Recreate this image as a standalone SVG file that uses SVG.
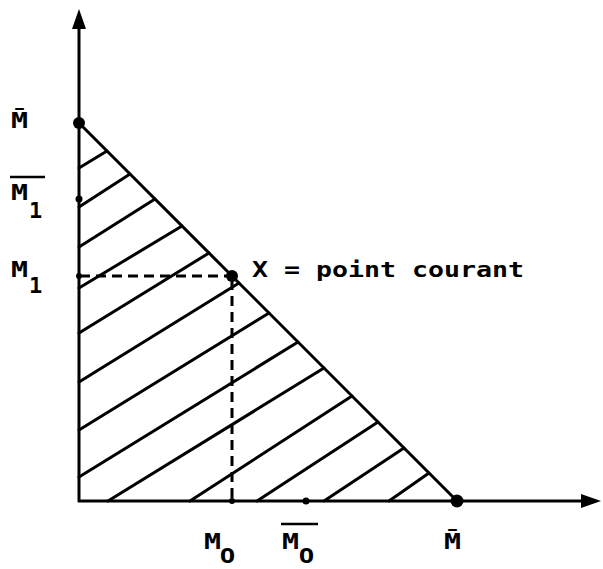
<svg xmlns="http://www.w3.org/2000/svg" width="603" height="569" viewBox="0 0 603 569">
  <style>
    .ln { stroke: #000; stroke-width: 3; fill: none; stroke-linecap: round; }
    .ax { stroke: #000; stroke-width: 3; fill: none; }
    .dash { stroke: #000; stroke-width: 3; fill: none; stroke-dasharray: 10 6; }
    .bar { stroke: #000; stroke-width: 2.5; }
    .lbl { font-family: "DejaVu Sans Mono", "Liberation Mono", monospace; font-weight: bold; font-size: 22px; fill: #000; }
    .zero { font-family: "Noto Sans", "Liberation Sans", sans-serif; font-weight: bold; font-size: 22px; fill: #000; }
    .dot { fill: #000; }
  </style>
  <defs>
    <marker id="arrow" markerUnits="userSpaceOnUse" markerWidth="22" markerHeight="16" refX="0" refY="7" orient="auto" viewBox="0 0 22 14">
      <path d="M0,0 L20,7 L0,14 Z" fill="#000"/>
    </marker>
  </defs>
  <rect width="603" height="569" fill="#fff"/>

  <g id="connectors">
    <line id="y-axis" class="ax" x1="79" y1="502" x2="79" y2="29" marker-end="url(#arrow)"/>
    <line id="x-axis" class="ax" x1="78" y1="501" x2="581" y2="501" marker-end="url(#arrow)"/>
    <line id="hypotenuse" class="ln" x1="79" y1="123" x2="457" y2="501"/>
    <g id="hatching" class="ln">
      <line x1="79" y1="168" x2="107" y2="151"/>
      <line x1="79" y1="207" x2="130" y2="174"/>
      <line x1="79" y1="247" x2="155" y2="199"/>
      <line x1="79" y1="288" x2="182" y2="226"/>
      <line x1="79" y1="333" x2="209" y2="253"/>
      <line x1="79" y1="382" x2="239" y2="283"/>
      <line x1="79" y1="430" x2="269" y2="313"/>
      <line x1="79" y1="477" x2="298" y2="342"/>
      <line x1="108" y1="501" x2="324" y2="368"/>
      <line x1="190" y1="501" x2="352" y2="396"/>
      <line x1="257" y1="501" x2="378" y2="422"/>
      <line x1="324" y1="501" x2="404" y2="448"/>
      <line x1="389" y1="501" x2="429" y2="473"/>
    </g>
    <line id="dash-h" class="dash" x1="80" y1="276" x2="230" y2="276"/>
    <line id="dash-v" class="dash" x1="232" y1="280" x2="232" y2="501"/>
  </g>

  <g id="points">
    <circle id="pt-Mbar-y" class="dot" cx="79" cy="123" r="6"/>
    <circle id="pt-X" class="dot" cx="232" cy="276" r="6"/>
    <circle id="pt-Mbar-x" class="dot" cx="457" cy="501" r="6.5"/>
    <circle id="tick-M1bar" class="dot" cx="79" cy="199" r="3.5"/>
    <circle id="tick-M1" class="dot" cx="79" cy="276" r="3"/>
    <circle id="tick-M0" class="dot" cx="232" cy="501" r="3"/>
    <circle id="tick-M0bar" class="dot" cx="306" cy="501" r="3.5"/>
  </g>

  <g id="label-Mbar-y">
    <text class="lbl" x="11" y="128" textLength="17" lengthAdjust="spacingAndGlyphs">M&#x304;</text>
  </g>
  <g id="label-M1bar">
    <line class="bar" x1="10" y1="177" x2="45" y2="177"/>
    <text class="lbl" x="11" y="200" textLength="17" lengthAdjust="spacingAndGlyphs">M</text>
    <text class="lbl" x="29" y="218">1</text>
  </g>
  <g id="label-M1">
    <text class="lbl" x="11" y="277" textLength="17" lengthAdjust="spacingAndGlyphs">M</text>
    <text class="lbl" x="29" y="293">1</text>
  </g>
  <g id="label-X">
    <text class="lbl" x="252" y="277" textLength="272" lengthAdjust="spacingAndGlyphs">X = point courant</text>
  </g>
  <g id="label-M0">
    <text class="lbl" x="204" y="549" textLength="17" lengthAdjust="spacingAndGlyphs">M</text>
    <text class="zero" x="220" y="563" textLength="15" lengthAdjust="spacingAndGlyphs">0</text>
  </g>
  <g id="label-M0bar">
    <line class="bar" x1="281" y1="524" x2="318" y2="524"/>
    <text class="lbl" x="282" y="549" textLength="17" lengthAdjust="spacingAndGlyphs">M</text>
    <text class="zero" x="299" y="563" textLength="15" lengthAdjust="spacingAndGlyphs">0</text>
  </g>
  <g id="label-Mbar-x">
    <text class="lbl" x="444" y="549" textLength="17" lengthAdjust="spacingAndGlyphs">M&#x304;</text>
  </g>
</svg>
